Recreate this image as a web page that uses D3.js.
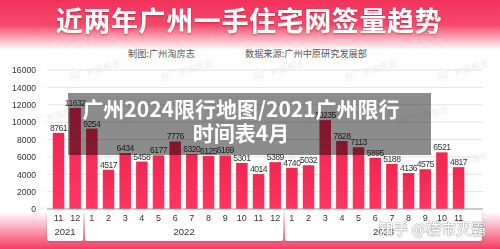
<!DOCTYPE html>
<html><head><meta charset="utf-8">
<script src="https://cdn.jsdelivr.net/npm/d3@7/dist/d3.min.js"></script>
<style>html,body{margin:0;padding:0;background:#fff;overflow:hidden}</style>
</head><body>
<script>
const monthLabels = ["11","12","1","2","3","4","5","6","7","8","9","10","11","12","1","2","3","4","5","6","7","8","9","10","11"];
const yearLabels = ["2021","2021","2022","2022","2022","2022","2022","2022","2022","2022","2022","2022","2022","2022","2023","2023","2023","2023","2023","2023","2023","2023","2023","2023","2023"];
const values = [8761,11632,9254,4517,6434,5458,6177,7776,6320,6125,6169,5301,4014,5389,4740,5032,10235,7828,7113,5895,5188,4136,4575,6521,4817];
const yTicks = [0,2000,4000,6000,8000,10000,12000,14000,16000];
const title = "近两年广州一手住宅网签量趋势";
const maker = "制图:广州淘房志";
const source = "数据来源:广州中原研究发展部";
const overlayLines = ["广州2024限行地图/2021广州限行","时间表4月"];
const brand = "知乎 @楼市灭霸";

const W = 500, H = 249;
const svg = d3.select("body").append("svg").attr("width", W).attr("height", H)
  .style("display","block");
const defs = svg.append("defs");
const tg = defs.append("linearGradient").attr("id","topg").attr("x1",0).attr("y1",0).attr("x2",0).attr("y2",1);
tg.append("stop").attr("offset",0).attr("stop-color","#f3325a");
tg.append("stop").attr("offset",0.5).attr("stop-color","#f6496c");
tg.append("stop").attr("offset",1).attr("stop-color","#ffffff");
const bg = defs.append("linearGradient").attr("id","botg").attr("x1",0).attr("y1",0).attr("x2",0).attr("y2",1);
bg.append("stop").attr("offset",0).attr("stop-color","#ffffff");
bg.append("stop").attr("offset",1).attr("stop-color","#f73a62");
const barg = defs.append("linearGradient").attr("id","barg").attr("x1",0).attr("y1",0).attr("x2",0).attr("y2",1);
barg.append("stop").attr("offset",0).attr("stop-color","#ee2850");
barg.append("stop").attr("offset",1).attr("stop-color","#ff3462");
const sh = defs.append("filter").attr("id","sh").attr("x","-20%").attr("y","-20%").attr("width","140%").attr("height","160%");
sh.append("feDropShadow").attr("dx",0).attr("dy",1).attr("stdDeviation",1).attr("flood-color","#000").attr("flood-opacity",0.18);
const tsh = defs.append("filter").attr("id","tsh");
tsh.append("feDropShadow").attr("dx",0).attr("dy",1).attr("stdDeviation",0.8).attr("flood-color","#a0001e").attr("flood-opacity",0.45);

svg.append("rect").attr("x",0).attr("y",0).attr("width",W).attr("height",50).attr("fill","url(#topg)");
svg.append("rect").attr("x",0).attr("y",212).attr("width",W).attr("height",37).attr("fill","url(#botg)");

const cjk = "'Noto Sans CJK SC','Noto Sans',sans-serif";
svg.append("text").attr("x",249).attr("y",31).attr("text-anchor","middle")
  .attr("font-family",cjk).attr("font-weight",700).attr("font-size",27).attr("fill","#fff")
  .attr("filter","url(#tsh)").attr("letter-spacing",0.6).text(title);
svg.append("text").attr("x",128).attr("y",57).attr("font-family",cjk).attr("font-size",9.2).attr("fill","#555").text(maker);
svg.append("text").attr("x",245).attr("y",57).attr("font-family",cjk).attr("font-size",9.2).attr("fill","#555").text(source);

const y = d3.scaleLinear().domain([0,16000]).range([209,70]);
const x = d3.scaleBand().domain(d3.range(values.length)).range([50.17, 466.9]).paddingInner(0.31).paddingOuter(0.155);

// watermarks
const wm = svg.append("g").attr("opacity",0.13);
for (let r = 0; r < 5; r++) for (let c = 0; c < 5; c++) {
  const wx = 30 + c*92 + (r%2)*40, wy = 34 + r*46;
  wm.append("text").attr("transform",`translate(${wx},${wy}) rotate(-15)`)
    .attr("font-family",cjk).attr("font-size",9).attr("fill","#666").text("@广州淘房志");
}

// grid
svg.append("g").selectAll("line").data(yTicks.filter(d=>d>0)).join("line")
  .attr("x1",47).attr("x2",483).attr("y1",d=>y(d)).attr("y2",d=>y(d))
  .attr("stroke","#e4e4e4").attr("stroke-width",1);
const yAxis = svg.append("g").attr("transform","translate(40,0)")
  .call(d3.axisLeft(y).tickValues(yTicks).tickSize(0).tickPadding(4).tickFormat(d3.format("d")));
yAxis.select(".domain").remove();
yAxis.selectAll("text").attr("font-family","'Liberation Sans',Arial,sans-serif").attr("font-size",8.6).attr("fill","#333");

// bars
svg.append("g").selectAll("rect").data(values).join("rect")
  .attr("x",(d,i)=>x(i)).attr("width",x.bandwidth())
  .attr("y",d=>y(d)).attr("height",d=>y(0)-y(d)).attr("fill","url(#barg)");
svg.append("g").selectAll("text").data(values).join("text")
  .attr("x",(d,i)=>x(i)+x.bandwidth()/2).attr("y",d=>y(d)-2)
  .attr("text-anchor","middle").attr("font-family","'Liberation Sans',Arial,sans-serif")
  .attr("font-size",8.6).attr("letter-spacing",-0.5).attr("fill","#333").text(d=>d);

// year boxes
const groups = [];
yearLabels.forEach((yl,i)=>{
  const g = groups[groups.length-1];
  if (g && g.year===yl) g.end=i; else groups.push({year:yl,start:i,end:i});
});
const gb = svg.append("g");
groups.forEach((g,k)=>{
  const left = k===0 ? 47 : x(g.start)-1;
  const right = k===groups.length-1 ? 482 : x(groups[k+1].start)-3;
  gb.append("rect").attr("x",left).attr("y",209).attr("width",right-left).attr("height",32)
    .attr("rx",2).attr("fill","#fff").attr("filter","url(#sh)");
  gb.append("text").attr("x",(left+right)/2).attr("y",234.5).attr("text-anchor","middle")
    .attr("font-family","'Liberation Sans',Arial,sans-serif").attr("font-size",9.5).attr("fill","#333").text(g.year);
});
svg.append("line").attr("x1",47).attr("x2",483).attr("y1",y(0)).attr("y2",y(0)).attr("stroke","#9a9a9a");
const xAxis = svg.append("g").attr("transform",`translate(0,${y(0)})`)
  .call(d3.axisBottom(x).tickSize(0).tickPadding(6).tickFormat(i=>monthLabels[i]));
xAxis.select(".domain").remove();
xAxis.selectAll("text").attr("font-family","'Liberation Sans',Arial,sans-serif").attr("font-size",9).attr("fill","#333");

// overlay
svg.append("rect").attr("x",68).attr("y",93).attr("width",363).attr("height",62).attr("fill","#000").attr("opacity",0.45);
overlayLines.forEach((t,i)=>{
  svg.append("text").attr("x",241).attr("y",117+i*24).attr("text-anchor","middle")
    .attr("font-family",cjk).attr("font-weight",700).attr("font-size",21).attr("fill","#fff").text(t);
});

// brand watermark
svg.append("text").attr("x",486).attr("y",234).attr("text-anchor","end")
  .attr("font-family",cjk).attr("font-size",15).attr("fill","#fff")
  .attr("stroke","#888").attr("stroke-width",0.5).attr("paint-order","stroke")
  .attr("filter","url(#sh)").text(brand);
</script>
</body></html>
